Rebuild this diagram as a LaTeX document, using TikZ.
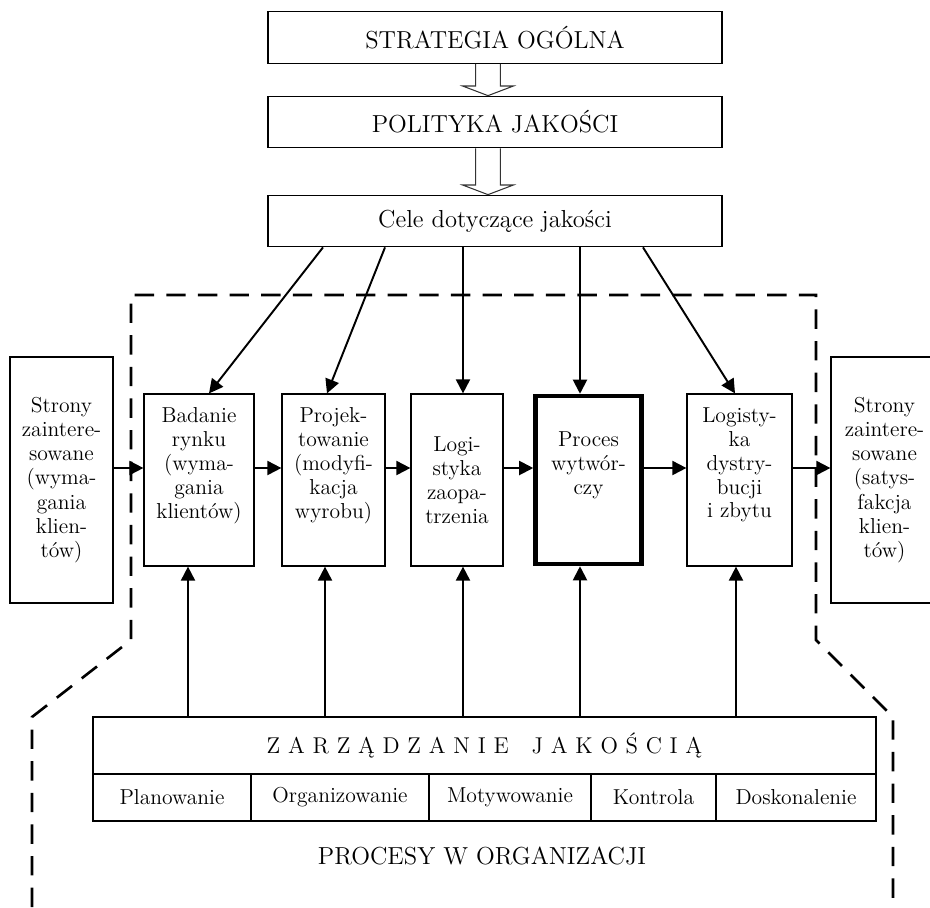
\documentclass[tikz,border=0pt]{standalone}
\usepackage{fontspec}
\usepackage{tikz}
\usetikzlibrary{positioning,calc,arrows.meta}

\newcommand{\hollowarr}[2]{%
  \draw[hollow] let \p1=(#1), \p2=(#2) in
    (\x1-7pt,\y1) -- (\x1-7pt,\y2+5.5pt) -- (\x1-14.5pt,\y2+5.5pt) -- (\x2,\y2)
    -- (\x1+14.5pt,\y2+5.5pt) -- (\x1+7pt,\y2+5.5pt) -- (\x1+7pt,\y1);}
\newcommand{\ls}{\kern4.4pt}

\begin{document}
\begin{tikzpicture}[x=0.02cm, y=-0.02cm,
	topbox/.style={draw, line width=0.7pt, minimum width=9.08cm, minimum height=1.03cm, inner sep=0pt, font=\fontsize{14}{16}\selectfont},
	sidebox/.style={draw, line width=0.7pt, minimum width=2.06cm, minimum height=4.92cm, inner sep=0pt, align=center, font=\fontsize{12.3}{13.8}\selectfont},
	procbox/.style={draw, line width=0.7pt, minimum height=3.44cm, inner sep=0pt, align=center, font=\fontsize{12.3}{13.6}\selectfont},
	cell/.style={draw, line width=0.7pt, minimum height=0.94cm, inner sep=0pt, font=\fontsize{12.3}{14}\selectfont},
	arr/.style={-{Triangle[length=8pt,width=8pt]}, line width=1.1pt},
	hollow/.style={line width=0.6pt, draw=black!80},
	frame/.style={dash pattern=on 11pt off 7pt, line width=1.5pt},
	]
	\useasboundingbox (0,0) rectangle (930,907);
	%Top
	\node[topbox] (strat) at (495,37.5) {STRATEGIA OGÓLNA};
	\node[topbox] (pol)   at (495,122)  {POLITYKA JAKOŚCI};
	\node[topbox] (cele)  at (495,221)  {Cele dotyczące jakości};
	\hollowarr{$(strat.south)+(-7,0)$}{$(pol.north)+(-7,0)$}
	\hollowarr{$(pol.south)+(-7,0)$}{$(cele.north)+(-7,0)$}
	
	%Frame
	\draw[frame] (32,907) -- (32,717) -- (131,640) -- (131,295) -- (816,295)
	  -- (816,640) -- (893,717) -- (893,907);
	
	%Nodes
	\node[sidebox] (lstr) at (61.5,480) {Strony\\zaintere-\\sowane\\(wyma-\\gania\\klien-\\tów)};
	\node[sidebox, minimum width=2.14cm] (rstr) at (884.5,480) {Strony\\zaintere-\\sowane\\(satys-\\fakcja\\klien-\\tów)};
	\node[procbox, minimum width=2.2cm]  (bad)  at (199,480)   {Badanie\\rynku\\(wyma-\\gania\\klientów)\\[6pt]\mbox{}};
	\node[procbox, minimum width=2.06cm] (proj) at (333.5,480) {Projek-\\towanie\\(modyfi-\\kacja\\wyrobu)\\[6pt]\mbox{}};
	\node[procbox, minimum width=1.84cm] (logz) at (457,480)   {Logi-\\styka\\zaopa-\\trzenia};
	\node[procbox, minimum width=2.12cm, minimum height=3.36cm, line width=2.6pt] (proc) at (588.5,480) {Proces\\wytwór-\\czy\\[6pt]\mbox{}};
	\node[procbox, minimum width=2.1cm]  (logd) at (739.5,480) {Logisty-\\ka\\dystry-\\bucji\\i zbytu\\[6pt]\mbox{}};
	
	\node[draw, line width=0.7pt, minimum width=15.66cm, minimum height=1.14cm, inner sep=0pt, font=\fontsize{13}{15}\selectfont] (zj) at (484.5,745.5)
	  {Z\ls A\ls R\ls Z\ls Ą\ls D\ls Z\ls A\ls N\ls I\ls E\kern13pt J\ls A\ls K\ls O\ls Ś\ls C\ls I\ls Ą};
	\node[cell, minimum width=3.16cm] (plan) at (172,797.5)   {Planowanie};
	\node[cell, minimum width=3.56cm] (org)  at (340,797.5)   {Organizowanie};
	\node[cell, minimum width=3.24cm] (mot)  at (510,797.5)   {Motywowanie};
	\node[cell, minimum width=2.5cm]  (kon)  at (653.5,797.5) {Kontrola};
	\node[cell, minimum width=3.2cm]  (dosk) at (796,797.5)   {Doskonalenie};
	\node[font=\fontsize{14}{16}\selectfont] (proc-org) at (482,856) {PROCESY W ORGANIZACJI};
	
	%Lines
	\coordinate (row) at (0,468);
	\draw[arr] (lstr.east |- row) -- (bad.west |- row);
	\draw[arr] (bad.east |- row)  -- (proj.west |- row);
	\draw[arr] (proj.east |- row) -- (logz.west |- row);
	\draw[arr] (logz.east |- row) -- (proc.west |- row);
	\draw[arr] (proc.east |- row) -- (logd.west |- row);
	\draw[arr] (logd.east |- row) -- (rstr.west |- row);
	
	\draw[arr] ($(cele.south)+(-172,0)$) -- ($(bad.north)+(10,0)$);
	\draw[arr] ($(cele.south)+(-110,0)$) -- ($(proj.north)+(-6.5,0)$);
	\draw[arr] ($(cele.south)+(-32,0)$)  -- ($(logz.north)+(6,0)$);
	\draw[arr] ($(cele.south)+(85,0)$)   -- ($(proc.north)+(-8.5,0)$);
	\draw[arr] ($(cele.south)+(148,0)$)  -- ($(logd.north)+(-4.5,0)$);
	
	\foreach \b/\dx in {bad/-11, proj/-8.5, logz/6, proc/-8.5, logd/-3.5}{
	  \path ($(\b.south)+(\dx,0)$) coordinate (bb);
	  \draw[arr] (zj.north -| bb) -- (bb);
	}
\end{tikzpicture}
\end{document}
